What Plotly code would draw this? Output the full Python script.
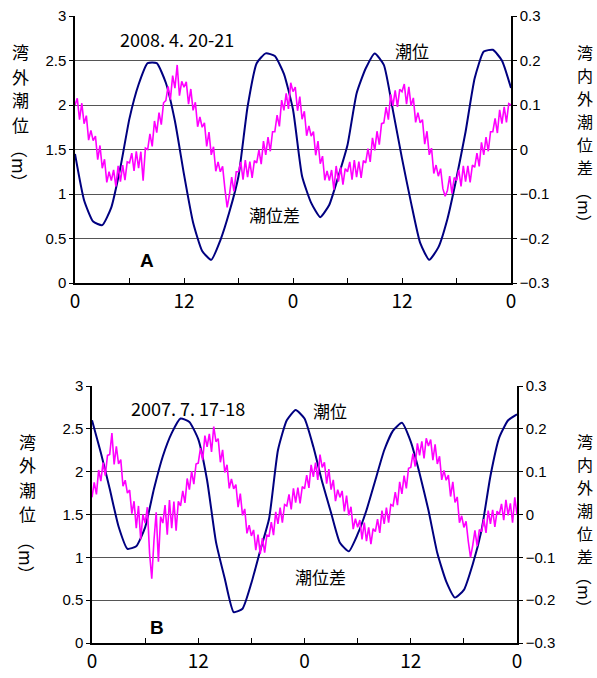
import plotly.graph_objects as go

# ---------------- data ----------------
hours = list(range(49))                      # hourly samples, 0..48 h
quarter_hours = [i * 0.25 for i in range(193)]  # 15-min samples, 0..48 h

x_tick_vals = [0, 6, 12, 18, 24, 30, 36, 42, 48]
x_tick_text = ["0", "", "12", "", "0", "", "12", "", "0"]

left_ticks = [0, 0.5, 1, 1.5, 2, 2.5, 3]
left_tick_text = ["0", "0.5", "1", "1.5", "2", "2.5", "3"]
right_ticks = [-0.3, -0.2, -0.1, 0, 0.1, 0.2, 0.3]
right_tick_text = ["\u22120.3", "\u22120.2", "\u22120.1", "0", "0.1", "0.2", "0.3"]

# Panel A: 2008.4.20-21
tide_A = [1.45, 0.93, 0.69, 0.65, 0.85, 1.30, 1.85, 2.23, 2.47, 2.47,
          2.25, 1.82, 1.22, 0.68, 0.36, 0.26, 0.48, 0.80, 1.20, 1.98,
          2.47, 2.58, 2.55, 2.35, 1.95, 1.20, 0.90, 0.74, 0.88, 1.20,
          1.55, 2.13, 2.41, 2.58, 2.45, 1.94, 1.40, 0.90, 0.45, 0.26,
          0.40, 0.72, 1.18, 1.70, 2.30, 2.60, 2.62, 2.50, 2.19]

diff_A = [
    0.100, 0.115, 0.067, 0.104, 0.058, 0.076, 0.021, 0.043,
    0.020, 0.030, -0.023, 0.009, -0.042, -0.022, -0.074, -0.050,
    -0.070, -0.046, -0.083, -0.037, -0.072, -0.035, -0.069, -0.028,
    -0.030, -0.008, -0.048, -0.004, -0.042, -0.005, -0.070, 0.003,
    0.000, 0.035, 0.007, 0.064, 0.038, 0.083, 0.056, 0.105,
    0.110, 0.142, 0.112, 0.166, 0.138, 0.190, 0.121, 0.153,
    0.140, 0.152, 0.102, 0.136, 0.088, 0.106, 0.051, 0.073,
    0.050, 0.060, 0.007, 0.039, -0.012, 0.006, -0.049, -0.028,
    -0.050, -0.038, -0.088, -0.130, -0.102, -0.062, -0.094, -0.050,
    -0.050, -0.028, -0.068, -0.024, -0.062, -0.027, -0.064, -0.025,
    -0.030, -0.001, -0.033, 0.019, -0.012, 0.028, -0.004, 0.040,
    0.040, 0.077, 0.052, 0.111, 0.088, 0.126, 0.091, 0.150,
    0.130, 0.140, 0.087, 0.119, 0.068, 0.086, 0.031, 0.053,
    0.030, 0.040, -0.013, 0.019, -0.032, -0.015, -0.069, -0.048,
    -0.070, -0.046, -0.090, -0.037, -0.072, -0.040, -0.079, -0.043,
    -0.050, -0.028, -0.068, -0.024, -0.062, -0.027, -0.064, -0.025,
    -0.030, 0.002, -0.028, 0.026, -0.002, 0.041, 0.011, 0.058,
    0.060, 0.095, 0.067, 0.124, 0.098, 0.133, 0.096, 0.135,
    0.130, 0.147, 0.102, 0.141, 0.098, 0.116, 0.061, 0.083,
    0.060, 0.067, 0.012, 0.041, -0.012, 0.003, -0.054, -0.035,
    -0.060, -0.043, -0.088, -0.105, -0.092, -0.060, -0.099, -0.063,
    -0.070, -0.046, -0.083, -0.037, -0.072, -0.037, -0.074, -0.035,
    -0.040, -0.008, -0.038, 0.016, -0.012, 0.028, -0.004, 0.040,
    0.040, 0.070, 0.037, 0.089, 0.058, 0.096, 0.061, 0.103,
    0.100]

# Panel B: 2007.7.17-18
tide_B = [2.60, 2.22, 1.80, 1.36, 1.10, 1.13, 1.35, 1.80, 2.18, 2.45,
          2.62, 2.58, 2.38, 1.90, 1.18, 0.75, 0.36, 0.40, 0.70, 1.08,
          1.45, 2.25, 2.60, 2.72, 2.62, 2.29, 1.88, 1.52, 1.17, 1.07,
          1.27, 1.55, 1.90, 2.25, 2.48, 2.57, 2.35, 1.98, 1.55, 1.05,
          0.72, 0.53, 0.62, 0.92, 1.32, 1.95, 2.40, 2.60, 2.67]

diff_B = [
    0.040, 0.075, 0.047, 0.104, 0.078, 0.121, 0.091, 0.138,
    0.140, 0.190, 0.117, 0.159, 0.118, 0.128, 0.066, 0.080,
    0.050, 0.057, 0.002, 0.031, -0.032, 0.020, -0.058, 0.000,
    -0.020, 0.017, -0.090, -0.150, -0.060, 0.005, -0.110, -0.005,
    -0.020, 0.022, -0.047, 0.034, -0.032, 0.030, -0.038, 0.031,
    0.020, 0.055, 0.027, 0.084, 0.058, 0.101, 0.071, 0.118,
    0.120, 0.155, 0.127, 0.184, 0.158, 0.188, 0.146, 0.205,
    0.170, 0.177, 0.122, 0.151, 0.098, 0.116, 0.061, 0.083,
    0.060, 0.070, 0.017, 0.049, -0.002, 0.013, -0.044, -0.025,
    -0.050, -0.036, -0.083, -0.047, -0.092, -0.055, -0.089, -0.048,
    -0.050, -0.018, -0.048, 0.006, -0.022, 0.016, -0.019, 0.023,
    0.020, 0.047, 0.012, 0.061, 0.028, 0.063, 0.026, 0.065,
    0.060, 0.092, 0.062, 0.116, 0.088, 0.121, 0.081, 0.140,
    0.110, 0.122, 0.072, 0.106, 0.058, 0.081, 0.031, 0.058,
    0.040, 0.055, 0.007, 0.044, -0.002, 0.018, -0.034, -0.010,
    -0.030, -0.013, -0.058, -0.019, -0.062, -0.030, -0.069, -0.033,
    -0.040, -0.011, -0.043, 0.009, -0.022, 0.016, -0.019, 0.023,
    0.020, 0.052, 0.022, 0.076, 0.048, 0.091, 0.061, 0.108,
    0.110, 0.142, 0.112, 0.166, 0.138, 0.171, 0.131, 0.178,
    0.160, 0.175, 0.127, 0.164, 0.118, 0.136, 0.081, 0.103,
    0.080, 0.092, 0.042, 0.076, 0.028, 0.041, -0.019, -0.003,
    -0.030, -0.016, -0.063, -0.100, -0.072, -0.037, -0.074, -0.035,
    -0.040, -0.011, -0.043, 0.009, -0.022, 0.011, -0.029, 0.008,
    0.000, 0.025, -0.013, 0.034, -0.002, 0.026, -0.019, 0.040,
    0.000]

left_title_chars = ["湾", "外", "潮", "位"]
right_title_chars = ["湾", "内", "外", "潮", "位", "差"]
unit_text = "（m）"

# ---------------- styling ----------------
W, H = 597, 678
NAVY = "#000080"
MAGENTA = "#FF00FF"
CJK = "Noto Sans CJK JP"
NUM = "Liberation Sans, Arial, sans-serif"

def px_x(v):
    return v / W

def px_y(v):
    return 1 - v / H

fig = go.Figure()

fig.add_trace(go.Scatter(x=hours, y=tide_A, mode="lines", xaxis="x", yaxis="y",
                         line=dict(color=NAVY, width=2, shape="spline", smoothing=0.5),
                         showlegend=False))
fig.add_trace(go.Scatter(x=quarter_hours, y=diff_A, mode="lines", xaxis="x", yaxis="y2",
                         line=dict(color=MAGENTA, width=1.6), showlegend=False))
fig.add_trace(go.Scatter(x=hours, y=tide_B, mode="lines", xaxis="x2", yaxis="y3",
                         line=dict(color=NAVY, width=2, shape="spline", smoothing=0.5),
                         showlegend=False))
fig.add_trace(go.Scatter(x=quarter_hours, y=diff_B, mode="lines", xaxis="x2", yaxis="y4",
                         line=dict(color=MAGENTA, width=1.6), showlegend=False))

def xaxis_cfg(domain, anchor):
    return dict(domain=domain, anchor=anchor, range=[0, 48], automargin=False,
                tickmode="array", tickvals=x_tick_vals, ticktext=x_tick_text,
                ticks="inside", ticklen=5, tickcolor="black", tickwidth=1,
                showline=True, linecolor="black", linewidth=1.5, mirror=False,
                showgrid=False, zeroline=False,
                tickfont=dict(family=CJK, size=19, color="black"))

def yleft_cfg(domain, anchor):
    return dict(domain=domain, anchor=anchor, range=[0, 3], automargin=False,
                tickmode="array", tickvals=left_ticks, ticktext=left_tick_text,
                ticks="outside", ticklen=4, tickcolor="black",
                showline=True, linecolor="black", linewidth=1.5,
                showgrid=True, gridcolor="#555555", gridwidth=1, zeroline=False,
                tickfont=dict(family=NUM, size=15, color="black"))

def yright_cfg(overlay, anchor):
    return dict(overlaying=overlay, anchor=anchor, side="right", range=[-0.3, 0.3],
                automargin=False,
                tickmode="array", tickvals=right_ticks, ticktext=right_tick_text,
                ticks="outside", ticklen=4, tickcolor="black",
                showline=True, linecolor="black", linewidth=1.5,
                showgrid=False, zeroline=False,
                tickfont=dict(family=NUM, size=15, color="black"))

dom_xA = [px_x(75), px_x(511)]
dom_yA = [px_y(283), px_y(16)]
dom_xB = [px_x(92), px_x(517)]
dom_yB = [px_y(643), px_y(386)]

annotations = []

def add_text(text, x, y, size=17, family=CJK, bold=False, angle=0):
    annotations.append(dict(text=f"<b>{text}</b>" if bold else text,
                            x=px_x(x), y=px_y(y), xref="paper", yref="paper",
                            showarrow=False, xanchor="center", yanchor="middle",
                            textangle=angle,
                            font=dict(family=family, size=size, color="black")))

# panel A labels
add_text("2008. 4. 20-21", 177, 39, size=18)
add_text("潮位", 412, 50, size=17)
add_text("潮位差", 274, 214, size=17)
add_text("A", 147, 260, size=19, family="Liberation Sans, Arial", bold=True)
# panel B labels
add_text("2007. 7. 17-18", 188, 408, size=18)
add_text("潮位", 330, 410, size=17)
add_text("潮位差", 320, 576, size=17)
add_text("B", 157, 627, size=19, family="Liberation Sans, Arial", bold=True)

# vertical axis titles: one character per line, unit rotated
def vertical_title(chars, x, y_top, pitch, unit_y, size):
    for i, ch in enumerate(chars):
        add_text(ch, x, y_top + i * pitch, size=size)
    add_text(unit_text, x, unit_y, size=size, angle=90)

vertical_title(left_title_chars, 20, 52, 24, 166, 17)
vertical_title(right_title_chars, 585, 52, 23, 207, 16)
vertical_title(left_title_chars, 27, 441, 24, 558, 17)
vertical_title(right_title_chars, 585, 441, 23, 592, 16)

fig.update_layout(
    width=W, height=H,
    margin=dict(l=0, r=0, t=0, b=0, autoexpand=False),
    paper_bgcolor="white", plot_bgcolor="white",
    xaxis=xaxis_cfg(dom_xA, "y"),
    yaxis=yleft_cfg(dom_yA, "x"),
    yaxis2=yright_cfg("y", "x"),
    xaxis2=xaxis_cfg(dom_xB, "y3"),
    yaxis3=yleft_cfg(dom_yB, "x2"),
    yaxis4=yright_cfg("y3", "x2"),
    annotations=annotations,
    showlegend=False,
)

fig.write_html(
    "out.html",
    config={"displayModeBar": False},
    post_script="document.body.style.margin='0';document.body.style.padding='0';"
                "document.body.style.overflow='hidden';",
)
